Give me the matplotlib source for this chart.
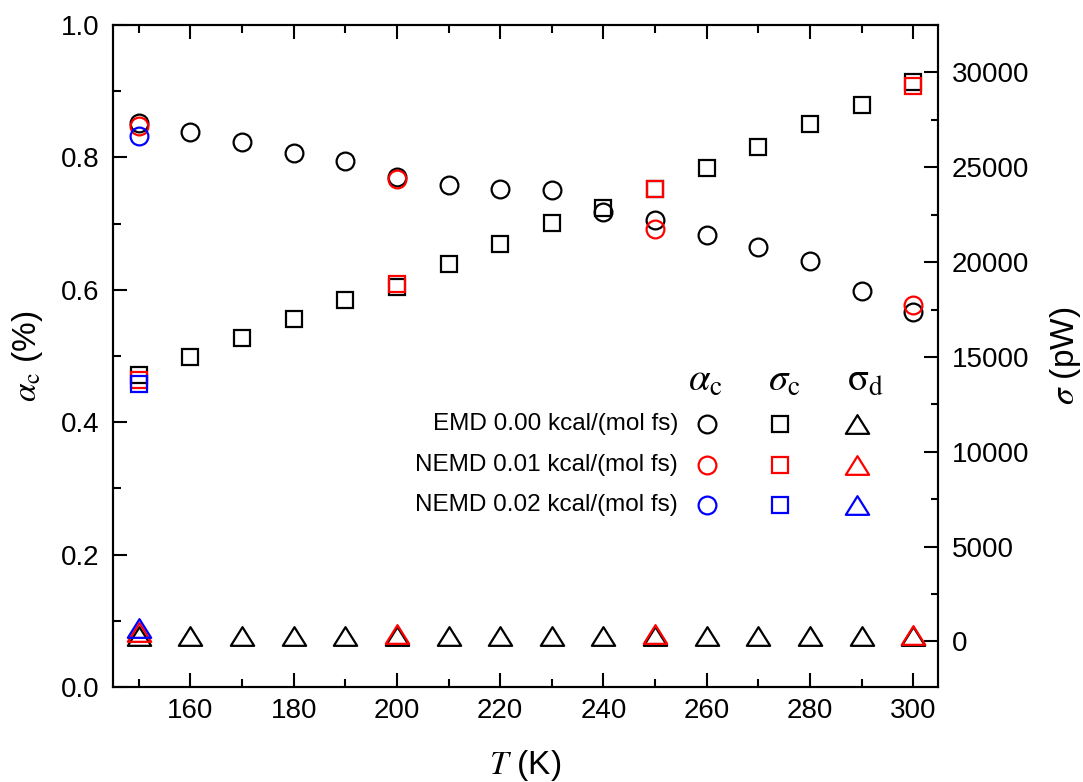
import matplotlib
matplotlib.use("Agg")
import matplotlib.pyplot as plt
from matplotlib.path import Path
from matplotlib.ticker import MultipleLocator, FormatStrFormatter

plt.rcParams['font.family'] = ['Liberation Sans', 'DejaVu Sans']
plt.rcParams['mathtext.fontset'] = 'stix'

# Temperatures (K)
T = [150, 160, 170, 180, 190, 200, 210, 220, 230, 240, 250, 260, 270, 280, 290, 300]

# EMD, 0.00 kcal/(mol fs)
alpha_emd = [0.852, 0.839, 0.823, 0.806, 0.794, 0.771, 0.759, 0.752, 0.751, 0.718,
             0.706, 0.683, 0.665, 0.644, 0.598, 0.567]
sigma_c_emd = [14030, 15000, 16020, 17020, 18020, 18700, 19890, 20960, 22080, 22840,
               23840, 24950, 26070, 27280, 28280, 29500]
sigma_d_emd = [300, 300, 300, 300, 300, 300, 300, 300, 300, 300,
               300, 300, 300, 300, 300, 300]

# NEMD, 0.01 kcal/(mol fs)
T_nemd1 = [150, 200, 250, 300]
alpha_nemd1 = [0.847, 0.767, 0.692, 0.577]
sigma_c_nemd1 = [13760, 18850, 23840, 29300]
sigma_d_nemd1 = [500, 400, 370, 340]

# NEMD, 0.02 kcal/(mol fs)
T_nemd2 = [150]
alpha_nemd2 = [0.833]
sigma_c_nemd2 = [13580]
sigma_d_nemd2 = [730]

labels = ['EMD 0.00 kcal/(mol fs)', 'NEMD 0.01 kcal/(mol fs)', 'NEMD 0.02 kcal/(mol fs)']
colors = ['black', 'red', 'blue']

# wide, flat open triangle
tri = Path([(0, 0.8), (-1, -0.8), (1, -0.8), (0, 0.8)],
           [Path.MOVETO, Path.LINETO, Path.LINETO, Path.CLOSEPOLY])

mk = {
    'o': dict(marker='o', ms=12.8),
    's': dict(marker='s', ms=11.8),
    't': dict(marker=tri, ms=16.8),
}
common = dict(ls='none', mfc='none', mew=1.6)

fig = plt.figure(figsize=(10.83, 7.82), dpi=100)
ax = fig.add_axes([0.1043, 0.1215, 0.7618, 0.8465])
ax2 = ax.twinx()

series = [
    (T, alpha_emd, sigma_c_emd, sigma_d_emd),
    (T_nemd1, alpha_nemd1, sigma_c_nemd1, sigma_d_nemd1),
    (T_nemd2, alpha_nemd2, sigma_c_nemd2, sigma_d_nemd2),
]
for (tt, a, sc, sd), c in zip(series, colors):
    ax.plot(tt, a, mec=c, **mk['o'], **common)
    ax2.plot(tt, sc, mec=c, **mk['s'], **common)
    ax2.plot(tt, sd, mec=c, **mk['t'], **common)

ax.set_xlim(145, 304.8)
ax.set_ylim(0.0, 1.0)
ax2.set_ylim(-2400, 32500)

ax.xaxis.set_major_locator(MultipleLocator(20))
ax.xaxis.set_minor_locator(MultipleLocator(10))
ax.yaxis.set_major_locator(MultipleLocator(0.2))
ax.yaxis.set_minor_locator(MultipleLocator(0.1))
ax2.yaxis.set_major_locator(MultipleLocator(5000))
ax2.yaxis.set_minor_locator(MultipleLocator(2500))
ax.yaxis.set_major_formatter(FormatStrFormatter('%.1f'))

for a in (ax, ax2):
    for s in a.spines.values():
        s.set_linewidth(1.5)

ax.tick_params(axis='x', which='both', direction='in', top=True, bottom=True,
               width=1.5, labelsize=20, pad=8)
ax.tick_params(axis='x', which='major', length=10)
ax.tick_params(axis='x', which='minor', length=5.5)
ax.tick_params(axis='y', which='both', direction='in', left=True, right=False,
               width=1.5, labelsize=20, pad=10)
ax.tick_params(axis='y', which='major', length=10)
ax.tick_params(axis='y', which='minor', length=5.5)
ax2.tick_params(axis='y', which='both', direction='in', right=True,
                width=1.5, labelsize=20, pad=10)
ax2.tick_params(axis='y', which='major', length=10)
ax2.tick_params(axis='y', which='minor', length=5)

ax.set_xlabel(r'$T$ (K)', fontsize=24)
ax.xaxis.set_label_coords(0.5, -0.118)
ax.xaxis.label.set_va('center')
ax.set_ylabel(r'$\alpha_\mathrm{c}$ (%)', fontsize=24)
ax.yaxis.set_label_coords(-0.103, 0.5)
ax.yaxis.label.set_va('center')
ax2.set_ylabel(r'$\sigma$ (pW)', fontsize=24)
ax2.yaxis.set_label_coords(1.154, 0.5)
ax2.yaxis.label.set_va('center')

# key: row labels, marker columns and column headers
col_x = [0.720, 0.8085, 0.9018]
row_y = [0.3973, 0.3353, 0.2749]
heads = [r'$\alpha_\mathrm{c}$', r'$\sigma_\mathrm{c}$', r'$\mathrm{\sigma}_\mathrm{d}$']
head_x = [0.7176, 0.8133, 0.9127]
for hx, h in zip(head_x, heads):
    ax.text(hx, 0.462, h, transform=ax.transAxes, ha='center', va='center', fontsize=28)
for ry, lab, c in zip(row_y, labels, colors):
    ax.text(0.6848, ry, lab, transform=ax.transAxes, ha='right', va='center', fontsize=17.5)
    for cx, key in zip(col_x, ['o', 's', 't']):
        ax.plot([cx], [ry], transform=ax.transAxes, mec=c, clip_on=False,
                **mk[key], **common)

fig.savefig('out.png', dpi=100, facecolor='white')
